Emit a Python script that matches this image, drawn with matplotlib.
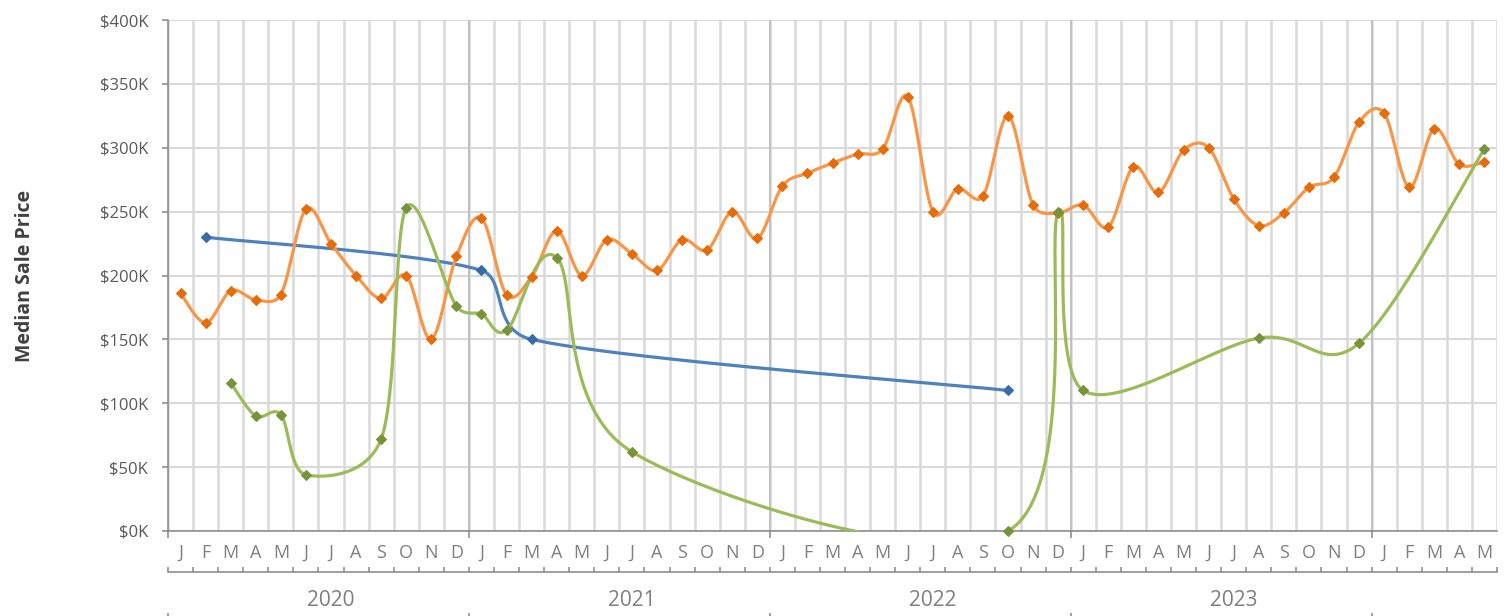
import numpy as np
import matplotlib
matplotlib.use("Agg")
import matplotlib.pyplot as plt
from matplotlib.ticker import FuncFormatter

nan = np.nan

# ---- data (values in $K) ----
months = ["J", "F", "M", "A", "M", "J", "J", "A", "S", "O", "N", "D"] * 4 + ["J", "F", "M", "A", "M"]
years = ["2020", "2021", "2022", "2023"]

orange = [186, 163, 188, 181, 185, 252, 225, 200, 182, 200, 150, 215,
          245, 185, 199, 235, 200, 228, 217, 204, 228, 220, 250, 229,
          270, 280, 288, 295, 299, 340, 250, 268, 262, 325, 255, 249,
          255, 238, 285, 265, 298, 300, 260, 239, 249, 269, 277, 320,
          327, 269, 315, 287, 289]

blue = [nan, 230, nan, nan, nan, nan, nan, nan, nan, nan, nan, nan,
        204, nan, 150, nan, nan, nan, nan, nan, nan, nan, nan, nan,
        nan, nan, nan, nan, nan, nan, nan, nan, nan, 110, nan, nan,
        nan, nan, nan, nan, nan, nan, nan, nan, nan, nan, nan, nan,
        nan, nan, nan, nan, nan]

green = [nan, nan, 116, 90, 91, 44, nan, nan, 72, 253, nan, 176,
         170, 157, nan, 214, nan, nan, 62, nan, nan, nan, nan, nan,
         nan, nan, nan, nan, nan, nan, nan, nan, nan, 0, nan, 250,
         110, nan, nan, nan, nan, nan, nan, 151, nan, nan, nan, 147,
         nan, nan, nan, nan, 299]

series = [
    (blue, "#4F81BD", "#3A6BA6"),
    (orange, "#F79646", "#E46C0A"),
    (green, "#9BBB59", "#77933C"),
]

plt.rcParams["font.family"] = ["Open Sans", "DejaVu Sans"]

W, H = 1511, 616
fig = plt.figure(figsize=(W / 100, H / 100), dpi=100)
L, R, T, B = 168, 1497, 20, 531
ax = fig.add_axes([L / W, 1 - B / H, (R - L) / W, (B - T) / H])

n = len(months)
x = np.arange(n)
ax.set_xlim(-0.5, n - 0.5)
ax.set_ylim(0, 400)

GRID = "#D9D9D9"
AXC = "#868686"

# y axis
ax.set_yticks(np.arange(0, 401, 50))
ax.yaxis.set_major_formatter(FuncFormatter(lambda v, p: f"${int(v)}K"))
ax.tick_params(axis="y", direction="out", length=4.3, width=1.1, color=AXC,
               labelsize=12, labelcolor="#595959", pad=10)
ax.yaxis.grid(True, color=GRID, lw=1.5)

# x axis: month labels at centres, gridlines at boundaries
ax.set_xticks(x)
ax.set_xticklabels(months)
ax.tick_params(axis="x", which="major", length=0, labelsize=13, labelcolor="#7F7F7F", pad=9)
bounds = np.arange(-0.5, n, 1.0)
ax.set_xticks(bounds, minor=True)
ax.tick_params(axis="x", which="minor", length=0)
ax.xaxis.grid(True, which="minor", color=GRID, lw=1.8)
ax.xaxis.grid(False, which="major")
for yb in [11.5, 23.5, 35.5, 47.5]:
    ax.axvline(yb, color="#BFBFBF", lw=1.3, zorder=0.6)
ax.set_axisbelow(True)

for s in ["top", "right"]:
    ax.spines[s].set_visible(False)
for s in ["left", "bottom"]:
    ax.spines[s].set_color(AXC)
    ax.spines[s].set_linewidth(1.1)

year_bounds = [-0.5, 11.5, 23.5, 35.5, 47.5]

# downward ticks at year boundaries on the main axis
sec0 = ax.secondary_xaxis("bottom")
sec0.set_xticks(year_bounds)
sec0.set_xticklabels([""] * len(year_bounds))
sec0.tick_params(direction="out", length=5, width=1.1, color=AXC)
sec0.spines["bottom"].set_visible(False)

# second level (years)
axh = B - T
sec1 = ax.secondary_xaxis(-(572 - B) / axh)
sec1.set_xticks(bounds)
sec1.set_xticklabels([""] * len(bounds))
sec1.tick_params(which="major", direction="in", length=3.5, width=1.1, color=AXC)
sec1.set_xticks([6, 18, 30, 42], minor=True)
sec1.set_xticklabels(years, minor=True)
sec1.tick_params(which="minor", length=0, labelsize=15, labelcolor="#7F7F7F", pad=13)
sec1.spines["bottom"].set_color(AXC)
sec1.spines["bottom"].set_linewidth(1.1)

sec2 = ax.secondary_xaxis(-(613 - B) / axh)
sec2.set_xticks(year_bounds)
sec2.set_xticklabels([""] * len(year_bounds))
sec2.tick_params(direction="out", length=4, width=1.1, color=AXC)
sec2.spines["bottom"].set_visible(False)

fig.text(25.5 / W, 1 - 275.5 / H, "Median Sale Price", rotation=90, ha="center", va="center",
         fontsize=14, fontweight="bold", color="#404040")


def excel_smooth(xs, ys, npts=80):
    pts = ax.transData.transform(np.column_stack([xs, ys]))
    N = len(pts)
    out = []
    t = np.linspace(0, 1, npts)[:, None]
    for i in range(N - 1):
        p0 = pts[i - 1] if i > 0 else pts[i]
        p1 = pts[i]
        p2 = pts[i + 1]
        p3 = pts[i + 2] if i + 2 < N else pts[i + 1]
        d02 = np.hypot(*(p2 - p0))
        d12 = np.hypot(*(p2 - p1))
        d13 = np.hypot(*(p3 - p1))
        f = 1 / 6
        if d02 > 0:
            f = min(f, d12 / (2 * d02))
        if d13 > 0:
            f = min(f, d12 / (2 * d13))
        c1 = p1 + f * (p2 - p0)
        c2 = p2 - f * (p3 - p1)
        seg = ((1 - t) ** 3) * p1 + 3 * ((1 - t) ** 2) * t * c1 + 3 * (1 - t) * t ** 2 * c2 + t ** 3 * p2
        out.append(seg if i == 0 else seg[1:])
    curve = np.vstack(out)
    return ax.transData.inverted().transform(curve)


for vals, lc, mc in series:
    v = np.array(vals, dtype=float)
    m = ~np.isnan(v)
    xs, ys = x[m], v[m]
    c = excel_smooth(xs, ys)
    ax.plot(c[:, 0], c[:, 1], color=lc, lw=2.3, solid_capstyle="round", zorder=3)
    ax.plot(xs, ys, linestyle="none", marker="D", ms=5, color=mc, mec=mc, mew=0.8,
            zorder=4, clip_on=False)

fig.savefig("out.png", dpi=100)
